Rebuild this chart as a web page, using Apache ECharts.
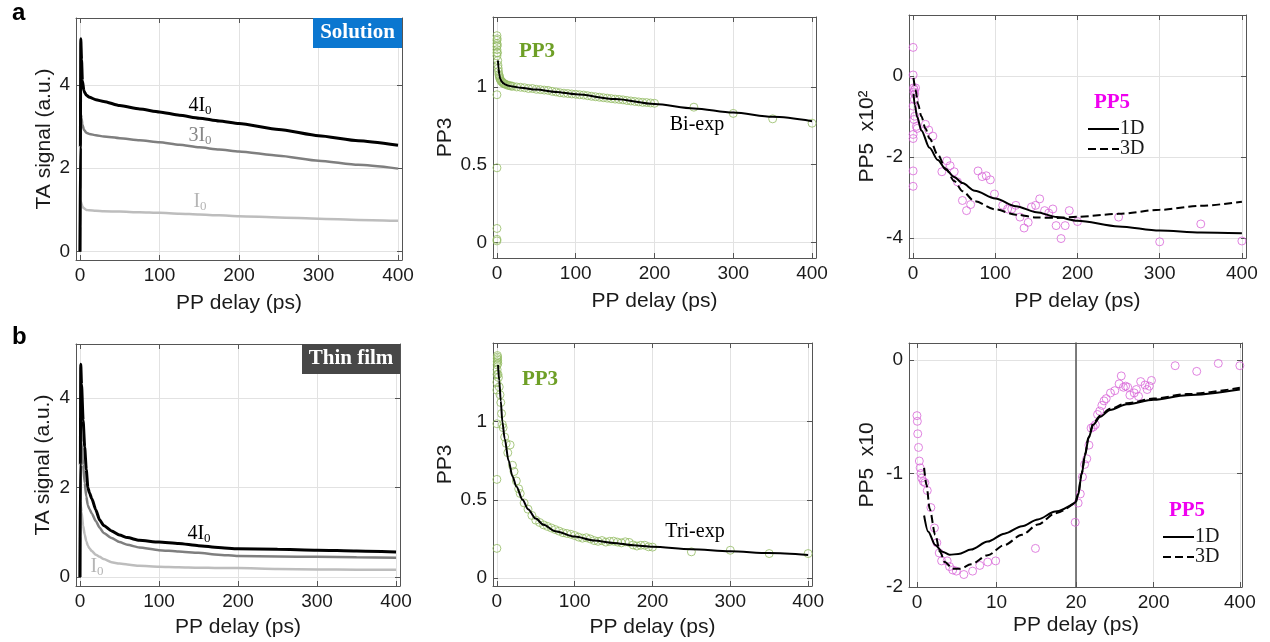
<!DOCTYPE html>
<html><head><meta charset="utf-8">
<script src="https://cdn.jsdelivr.net/npm/echarts@6/dist/echarts.min.js"></script>
<style>html,body{margin:0;padding:0;background:#fff}#c{width:1270px;height:642px}</style>
</head><body><div id="c"></div>
<script>
// ---------------- DATA ----------------
const xTicks = [0, 100, 200, 300, 400];
const taTicks = [0, 2, 4];
const pp3Ticks = [0, 0.5, 1];
const pp5SolTicks = [-4, -2, 0];
const pp5FilmTicks = [-2, -1, 0];
const brkLeftTicks = [0, 10, 20];
const brkRightTicks = [200, 400];

// Panel a-left: TA signal, solution
const solX  = [0, 0.5, 1, 2, 3, 5, 8, 12, 20, 30, 50, 75, 100, 125, 150, 175, 200, 250, 300, 350, 400];
const sol4I = [0, 2.5, 5.1, 4.6, 4.1, 3.85, 3.75, 3.7, 3.64, 3.6, 3.5, 3.42, 3.35, 3.27, 3.2, 3.13, 3.07, 2.93, 2.78, 2.66, 2.55];
const sol3I = [0, 1.5, 3.3, 3.2, 3.05, 2.92, 2.85, 2.82, 2.79, 2.76, 2.72, 2.67, 2.62, 2.56, 2.5, 2.45, 2.4, 2.3, 2.18, 2.08, 1.99];
const sol1I = [0, 0.6, 1.2, 1.15, 1.08, 1.04, 1.0, 0.99, 0.98, 0.97, 0.96, 0.945, 0.93, 0.91, 0.89, 0.87, 0.85, 0.82, 0.79, 0.76, 0.74];

// Panel b-left: TA signal, thin film
const filmX  = [0, 0.5, 1, 2, 4, 6, 8, 10, 12, 15, 20, 25, 30, 40, 50, 60, 75, 100, 125, 150, 175, 200, 250, 300, 350, 400];
const film4I = [0, 2.5, 4.75, 4.3, 3.5, 2.9, 2.4, 2.0, 1.88, 1.75, 1.5, 1.27, 1.15, 1.03, 0.94, 0.88, 0.82, 0.78, 0.75, 0.7, 0.66, 0.63, 0.62, 0.6, 0.58, 0.56];
const film3I = [0, 1.7, 3.3, 3.0, 2.5, 2.1, 1.8, 1.6, 1.52, 1.42, 1.25, 1.1, 0.98, 0.87, 0.78, 0.72, 0.66, 0.6, 0.57, 0.54, 0.5, 0.47, 0.46, 0.45, 0.44, 0.43];
const film1I = [0, 0.9, 1.6, 1.45, 1.15, 0.95, 0.8, 0.7, 0.64, 0.58, 0.5, 0.45, 0.4, 0.33, 0.3, 0.28, 0.25, 0.23, 0.22, 0.21, 0.2, 0.2, 0.18, 0.17, 0.165, 0.16];

// Panel a-middle: PP3 solution (points + bi-exp fit)
const pp3SolPts = [[0,0.01],[0,0.02],[0,0.09],[0,0.48],[0,0.95],[0,1.2],[0,1.22],[0,1.24],[0,1.26],[0,1.28],[0,1.3],[0,1.33],
 [0.3,1.31],[0.5,1.27],[0.7,1.22],[1,1.17],[1.3,1.14],[1.6,1.12],[2,1.1],[2.5,1.08],[3,1.07],[3.5,1.06],[4,1.05],[5,1.04],[6,1.035],[7,1.03],[8,1.025],[9,1.02],[10,1.02],[12,1.015],[14,1.01],[16,1.01],[18,1.005],[20,1.005],
 [25,1.0],[30,0.998],[35,0.995],[40,0.99],[45,0.99],[50,0.985],[55,0.983],[60,0.98],[65,0.978],[70,0.972],[75,0.968],[80,0.963],[85,0.96],[90,0.958],[95,0.955],[100,0.953],
 [105,0.95],[110,0.948],[115,0.944],[120,0.94],[125,0.937],[130,0.934],[135,0.931],[140,0.928],[145,0.925],[150,0.922],[155,0.92],[160,0.917],[165,0.913],[170,0.91],[175,0.907],[180,0.904],[185,0.901],[190,0.9],[195,0.897],[200,0.895],
 [250,0.87],[300,0.83],[350,0.795],[400,0.767]];
const pp3SolFit = [[1.3,1.17],[2,1.12],[3,1.08],[4,1.055],[6,1.035],[8,1.025],[10,1.017],[15,1.008],[20,1.003],[30,0.995],[50,0.983],[75,0.968],[100,0.953],[150,0.922],[200,0.89],[250,0.862],[300,0.835],[350,0.808],[400,0.78]];

// Panel b-middle: PP3 thin film (points + tri-exp fit)
const pp3FilmPts = [[0,0.19],[0,0.63],[0,0.985],[0,1.2],[0,1.25],[0.2,1.3],[0.3,1.33],[0.4,1.36],[0.5,1.38],[0.6,1.4],[0.7,1.42],[0.8,1.41],[1,1.39],[1.2,1.37],
 [1.5,1.3],[2,1.28],[3,1.22],[4,1.17],[5,1.12],[6,1.05],[7,0.98],[8,0.96],[10,0.9],[12,0.86],[14,0.8],[17,0.85],[20,0.72],[22,0.68],[25,0.62],[28,0.57],[30,0.54],[35,0.48],[40,0.44],[45,0.4],[50,0.37],
 [55,0.355],[60,0.34],[65,0.33],[70,0.32],[75,0.31],[80,0.3],[85,0.29],[90,0.285],[95,0.28],[100,0.272],[105,0.262],[110,0.255],[115,0.258],[120,0.25],[125,0.24],[130,0.235],[135,0.24],[140,0.23],[145,0.235],
 [150,0.236],[155,0.23],[160,0.225],[165,0.232],[170,0.228],[175,0.212],[180,0.205],[185,0.21],[190,0.21],[195,0.2],[200,0.198],[250,0.168],[300,0.178],[350,0.157],[400,0.157]];
const pp3FilmFit = [[1.5,1.36],[3,1.26],[5,1.13],[7,1.0],[10,0.89],[15,0.75],[20,0.65],[25,0.585],[33,0.5],[40,0.44],[50,0.38],[60,0.34],[75,0.3],[100,0.265],[125,0.24],[150,0.225],[175,0.21],[200,0.2],[250,0.185],[300,0.172],[350,0.16],[400,0.148]];

// Panel a-right: PP5 solution (x10^2)
const pp5SolPts = [[0,0.7],[0,0.02],[0.5,-0.3],[1,-0.4],[1.5,-0.35],[2,-0.45],[3,-0.3],[1.5,-0.59],[0,-0.75],[1,-1.08],[2,-1.0],[4,-1.25],[5,-1.3],[0,-1.45],[0,-1.55],
 [15,-1.2],[19,-1.34],[24,-1.49],[0,-2.35],[0,-2.73],[35,-2.37],[41,-2.1],[45,-2.22],[50,-2.37],[54,-2.62],[60,-3.08],[65,-3.33],[70,-3.18],[79,-2.35],[84,-2.49],[89,-2.47],[94,-2.57],[99,-2.92],
 [109,-3.2],[115,-3.29],[120,-3.29],[125,-3.2],[130,-3.49],[135,-3.76],[140,-3.62],[144,-3.24],[149,-3.2],[154,-3.04],[160,-3.33],[165,-3.39],[170,-3.29],[174,-3.7],[180,-4.02],[185,-3.7],[190,-3.33],[200,-3.6],
 [250,-3.49],[300,-4.1],[350,-3.66],[400,-4.08]];
const pp5Sol1D = [[0.5,-0.45],[2,-0.72],[5,-1.02],[10,-1.35],[20,-1.78],[30,-2.08],[40,-2.32],[50,-2.5],[60,-2.65],[75,-2.84],[100,-3.03],[125,-3.22],[150,-3.37],[175,-3.49],[200,-3.58],[250,-3.72],[300,-3.82],[350,-3.87],[400,-3.89]];
const pp5Sol3D = [[0.5,-0.05],[3,-0.35],[6,-0.7],[10,-1.0],[15,-1.3],[20,-1.55],[30,-1.95],[40,-2.3],[50,-2.6],[60,-2.85],[75,-3.1],[100,-3.3],[125,-3.43],[150,-3.5],[175,-3.51],[200,-3.48],[250,-3.41],[300,-3.31],[350,-3.21],[400,-3.11]];

// Panel b-right: PP5 thin film (x10), broken axis 0-20 | 20-400
const pp5FilmPtsA = [[0,-0.49],[0.05,-0.54],[0.1,-0.65],[0.2,-0.77],[0.3,-0.89],[0.4,-0.95],[0.5,-1.0],[0.6,-1.04],[0.8,-1.07],[1.0,-1.08],[1.3,-1.15],[1.75,-1.3],[2.2,-1.48],[2.5,-1.61],[2.8,-1.7],[3.1,-1.77],
 [3.8,-1.77],[4.1,-1.82],[4.5,-1.85],[4.95,-1.86],[5.9,-1.89],[7,-1.86],[7.9,-1.81],[8.9,-1.78],[9.9,-1.77],[14.9,-1.66],[19.9,-1.43]];
const pp5FilmPtsB = [[25,-1.26],[30,-1.18],[35,-1.03],[40,-0.92],[45,-0.87],[50,-0.75],[55,-0.6],[60,-0.59],[65,-0.57],[70,-0.48],[75,-0.45],[80,-0.4],[85,-0.36],[90,-0.34],[100,-0.29],[110,-0.27],
 [120,-0.21],[125,-0.14],[130,-0.24],[135,-0.23],[140,-0.24],[145,-0.31],[155,-0.29],[160,-0.26],[165,-0.32],[170,-0.19],[180,-0.22],[185,-0.26],[190,-0.23],[195,-0.18],[250,-0.05],[300,-0.1],[350,-0.03],[400,-0.05]];
const pp5Film1DA = [[0.9,-1.37],[1.4,-1.51],[2.3,-1.63],[3.2,-1.69],[4.1,-1.715],[5.2,-1.71],[6.8,-1.67],[8.9,-1.6],[11,-1.53],[13.2,-1.465],[15.2,-1.405],[17.4,-1.335],[20,-1.25]];
const pp5Film1DB = [[20,-1.25],[25,-1.19],[33,-1.01],[41,-0.84],[49,-0.69],[60,-0.57],[76,-0.5],[99,-0.44],[138,-0.39],[200,-0.35],[277,-0.31],[400,-0.26]];
const pp5Film3DA = [[0.9,-0.95],[1.2,-1.1],[1.6,-1.31],[2.3,-1.54],[2.9,-1.69],[3.5,-1.78],[4.5,-1.84],[5.4,-1.84],[6.8,-1.8],[8.9,-1.72],[11,-1.63],[13.2,-1.54],[15.2,-1.45],[17.4,-1.35],[20,-1.25]];
const pp5Film3DB = [[20,-1.25],[25,-1.18],[33,-1.0],[41,-0.83],[49,-0.68],[60,-0.56],[76,-0.49],[99,-0.43],[138,-0.38],[200,-0.34],[277,-0.3],[400,-0.245]];

// ---------------- STYLE / LAYOUT ----------------
const SANS = 'Liberation Sans, Arial, sans-serif';
const SERIF = 'Liberation Serif, Times New Roman, serif';
const AX = '#555';
const TXT = '#1a1a1a';
const GRIDC = '#e2e2e2';
const GREEN_T = '#6e9f26', GREEN_P = '#93bc63';
const MAG_T = '#f000f0', MAG_P = '#d865d8';

const grids = [
  {left:76, top:18, width:326, height:242},
  {left:493, top:17, width:323, height:241},
  {left:909, top:15, width:337, height:243},
  {left:76, top:344, width:324, height:242},
  {left:493, top:343, width:319, height:243},
  {left:909, top:343, width:167, height:244},
  {left:1076, top:343, width:166, height:244}
].map(g => Object.assign({outerBoundsMode:'none', containLabel:false, show:false}, g));

const xAxes = [], yAxes = [];
function addX(g, min, max, ticks, opts) {
  opts = opts || {};
  xAxes.push({
    type:'value', gridIndex:g, min, max, position:'bottom',
    axisLine:{show:true, onZero:false, lineStyle:{color:AX, width:1}},
    axisTick:{show:true, inside:true, length:5, customValues:ticks, lineStyle:{color:AX}},
    axisLabel:{show:true, customValues:ticks, margin:6, fontSize:19, fontFamily:SANS, color:TXT, showMinLabel:true, showMaxLabel:true, hideOverlap:false},
    splitLine:{show:true, lineStyle:{color:GRIDC, width:1}},
    name: opts.name || '', nameLocation:'middle', nameGap: opts.gap || 30,
    nameTextStyle:{fontSize:21, fontFamily:SANS, color:TXT}
  });
  xAxes.push({
    type:'value', gridIndex:g, min, max, position:'top',
    axisLine:{show:true, onZero:false, lineStyle:{color:AX, width:1}},
    axisTick:{show:true, inside:true, length:5, customValues:opts.topTicks || ticks, lineStyle:{color:AX}},
    axisLabel:{show:false}, splitLine:{show:false}
  });
}
function addY(g, min, max, ticks, opts) {
  opts = opts || {};
  yAxes.push({
    type:'value', gridIndex:g, min, max, position:'left',
    axisLine:{show:true, onZero:false, lineStyle:{color:AX, width: opts.breakLine ? 1.5 : 1}},
    axisTick:{show: !opts.noLeftTicks, inside:true, length:5, customValues:ticks, lineStyle:{color:AX}},
    axisLabel:{show: !opts.noLabels, customValues:ticks, margin:6, fontSize:19, fontFamily:SANS, color:TXT, showMinLabel:true, showMaxLabel:true, hideOverlap:false},
    splitLine:{show:true, lineStyle:{color:GRIDC, width:1}},
    name: opts.name || '', nameLocation:'middle', nameGap: opts.gap || 20,
    nameTextStyle:{fontSize:21, fontFamily:SANS, color:TXT}
  });
  yAxes.push({
    type:'value', gridIndex:g, min, max, position:'right',
    axisLine:{show: !opts.noRight, onZero:false, lineStyle:{color:AX, width:1}},
    axisTick:{show: !opts.noRight, inside:true, length:5, customValues:ticks, lineStyle:{color:AX}},
    axisLabel:{show:false}, splitLine:{show:false}
  });
}
const PPD = 'PP delay (ps)';
addX(0, -5, 405, xTicks, {name:PPD, gap:33});  addY(0, -0.2, 5.6, taTicks, {name:'TA signal (a.u.)', gap:21});
addX(1, -5, 405, xTicks, {name:PPD, gap:33});  addY(1, -0.1, 1.45, pp3Ticks, {name:'PP3', gap:37});
addX(2, -5, 405, xTicks, {name:PPD, gap:33});  addY(2, -4.5, 1.5, pp5SolTicks, {name:'PP5  x10\u00B2', gap:31});
addX(3, -5, 405, xTicks, {name:PPD, gap:31});  addY(3, -0.2, 5.2, taTicks, {name:'TA signal (a.u.)', gap:22});
addX(4, -5, 405, xTicks, {name:PPD, gap:31});  addY(4, -0.05, 1.5, pp3Ticks, {name:'PP3', gap:37});
addX(5, -1, 20, brkLeftTicks, {topTicks:[0,10]});  addY(5, -2, 0.15, pp5FilmTicks, {name:'PP5  x10', gap:31, noRight:true});
addX(6, 20, 405, brkRightTicks, {});  addY(6, -2, 0.15, pp5FilmTicks, {noLabels:true, noLeftTicks:true, breakLine:true});

const zip = (xs, ys) => xs.map((x, i) => [x, ys[i]]);
function line(g, name, data, color, width, dashed, smooth) {
  return {type:'line', name, xAxisIndex:2*g, yAxisIndex:2*g, data, symbol:'none', showSymbol:false,
    smooth: smooth === undefined ? 0.3 : smooth, smoothMonotone:'x', clip:true, z:4, silent:true,
    lineStyle:{color, width, type: dashed ? [8,4] : 'solid', cap:'butt'}, itemStyle:{color}};
}
function pts(g, name, data, color) {
  return {type:'scatter', name, xAxisIndex:2*g, yAxisIndex:2*g, data, symbol:'circle', symbolSize:8, z:2, silent:true,
    itemStyle:{color:'rgba(0,0,0,0)', borderColor:color, borderWidth:1}};
}

const series = [
  line(0, 'I0 sol', zip(solX, sol1I), '#bdbdbd', 2.5, false, 0.2),
  line(0, '3I0 sol', zip(solX, sol3I), '#7f7f7f', 2.5, false, 0.2),
  line(0, '4I0 sol', zip(solX, sol4I), '#000000', 3, false, 0.2),
  line(3, 'I0 film', zip(filmX, film1I), '#bdbdbd', 2.5, false, 0.2),
  line(3, '3I0 film', zip(filmX, film3I), '#7f7f7f', 2.5, false, 0.2),
  line(3, '4I0 film', zip(filmX, film4I), '#000000', 3, false, 0.2),
  pts(1, 'PP3 sol data', pp3SolPts, GREEN_P),
  line(1, 'Bi-exp', pp3SolFit, '#000', 2),
  pts(4, 'PP3 film data', pp3FilmPts, GREEN_P),
  line(4, 'Tri-exp', pp3FilmFit, '#000', 2),
  pts(2, 'PP5 sol data', pp5SolPts, MAG_P),
  line(2, '1D', pp5Sol1D, '#000', 2),
  line(2, '3D', pp5Sol3D, '#000', 2, true),
  pts(5, 'PP5 film data A', pp5FilmPtsA, MAG_P),
  pts(6, 'PP5 film data B', pp5FilmPtsB, MAG_P),
  line(5, '1D', pp5Film1DA, '#000', 2),
  line(5, '3D', pp5Film3DA, '#000', 2, true),
  line(6, '1D', pp5Film1DB, '#000', 2),
  line(6, '3D', pp5Film3DB, '#000', 2, true)
];

function legend(left, top) {
  return {data:['1D','3D'], left, top, orient:'vertical', itemWidth:31, itemHeight:10, itemGap:0,
    selectedMode:false, itemStyle:{opacity:0},
    textStyle:{fontFamily:SERIF, fontSize:20, color:TXT, lineHeight:20, padding:[0,0,0,-4]}};
}

function subText(main, sub, x, y, color, size) {
  const ss = Math.round(size * 0.66);
  return {type:'text', x, y, z:100, silent:true, style:{
    text:'{m|' + main + '}{s|' + sub + '}', align:'center', verticalAlign:'middle',
    rich:{m:{fontFamily:SERIF, fontSize:size, fill:color, color:color, lineHeight:size + 2},
          s:{fontFamily:SERIF, fontSize:ss, fill:color, color:color, verticalAlign:'bottom', lineHeight:ss}}}};
}
function txt(t, x, y, font, color, align) {
  return {type:'text', x, y, z:100, silent:true, style:{text:t, font, fill:color, align: align || 'center', verticalAlign:'middle'}};
}
const graphic = [
  txt('a', 12, 13, 'bold 24px ' + SANS, '#000', 'left'),
  txt('b', 12, 337, 'bold 24px ' + SANS, '#000', 'left'),
  {type:'rect', z:90, silent:true, shape:{x:313, y:18, width:89, height:30}, style:{fill:'#0b77d0'}},
  txt('Solution', 357.5, 33, 'bold 21px ' + SERIF, '#fff'),
  {type:'rect', z:90, silent:true, shape:{x:302, y:344, width:98, height:30}, style:{fill:'#474747'}},
  txt('Thin film', 351, 359, 'bold 21px ' + SERIF, '#fff'),
  subText('4I', '0', 200, 106, '#000', 20),
  subText('3I', '0', 200, 136, '#888', 20),
  subText('I', '0', 200, 202, '#b5b5b5', 20),
  subText('4I', '0', 199, 534, '#000', 20),
  subText('I', '0', 97, 567, '#b5b5b5', 20),
  txt('PP3', 537, 52, 'bold 21px ' + SERIF, GREEN_T),
  txt('PP3', 540, 380, 'bold 21px ' + SERIF, GREEN_T),
  txt('Bi-exp', 697, 125, '20px ' + SERIF, '#000'),
  txt('Tri-exp', 695, 532, '20px ' + SERIF, '#000'),
  txt('PP5', 1112, 103, 'bold 21px ' + SERIF, MAG_T),
  txt('PP5', 1187, 511, 'bold 21px ' + SERIF, MAG_T),
  txt(PPD, 1076, 625, '21px ' + SANS, TXT)
];

const chart = echarts.init(document.getElementById('c'), null, {renderer:'canvas'});
chart.setOption({
  animation:false,
  backgroundColor:'#fff',
  grid: grids,
  xAxis: xAxes,
  yAxis: yAxes,
  legend: [legend(1082, 114), legend(1157, 522)],
  series,
  graphic
});
</script>
</body></html>
